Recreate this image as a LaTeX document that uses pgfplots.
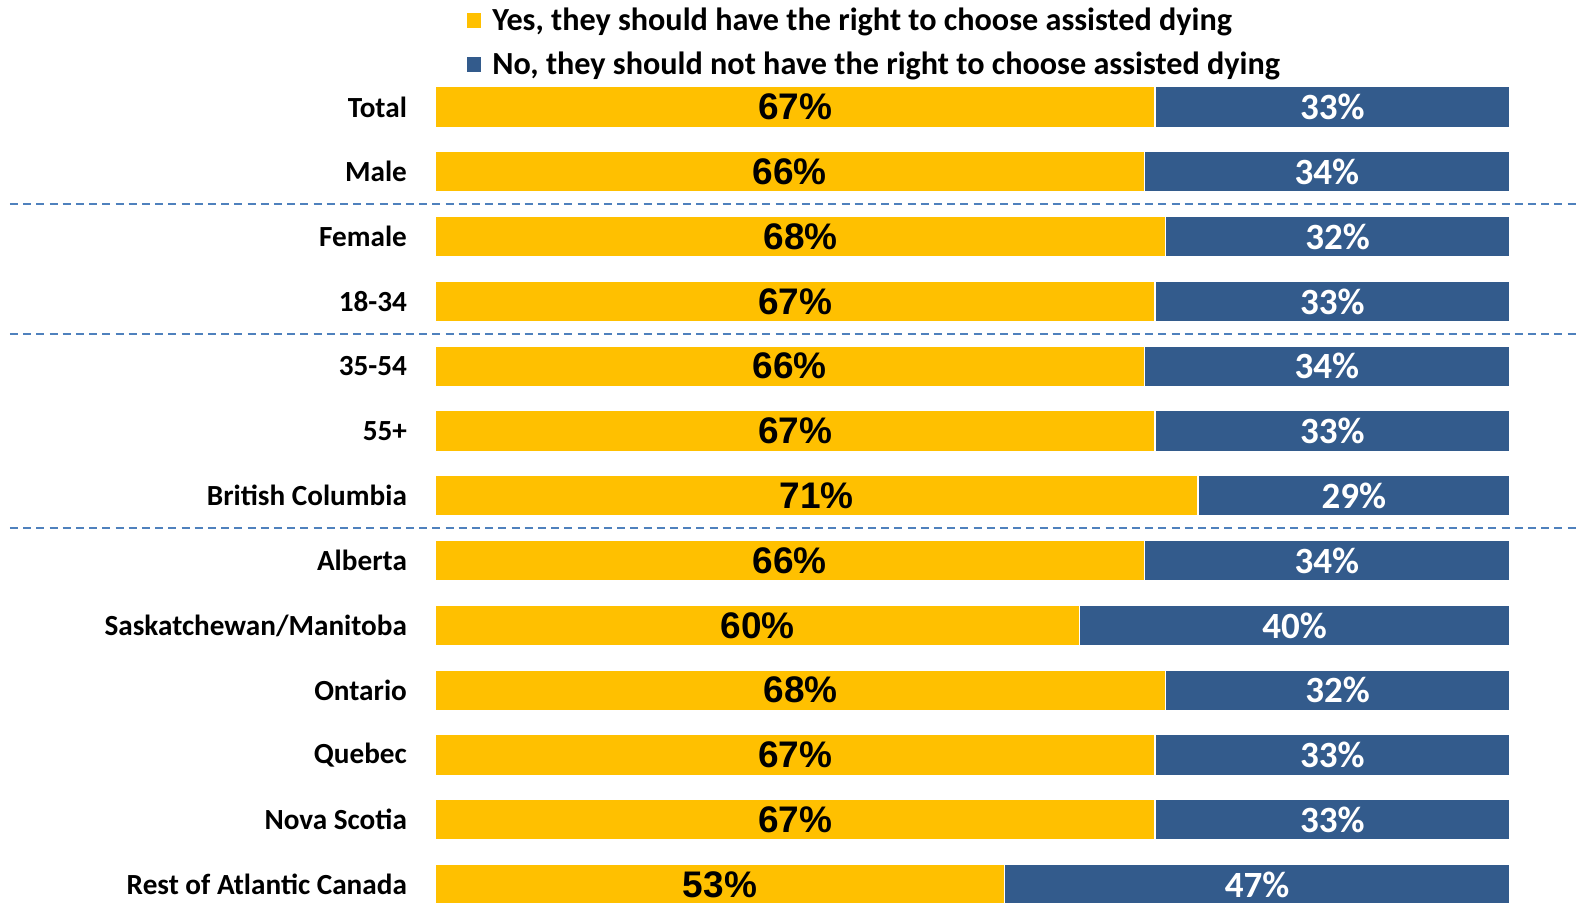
\documentclass[border=0pt]{standalone}
\usepackage{pgfplots}
\usepackage{pgfplotstable}
\pgfplotsset{compat=1.18}
\usepackage{fontspec}
\setmainfont{Carlito}
\newfontfamily\arialf{Liberation Sans}
\definecolor{yyellow}{HTML}{FFC000}
\definecolor{nblue}{HTML}{335B8C}
\definecolor{dashcol}{HTML}{4F81BD}

\pgfplotstableread{
y yes no
12 67 33
11 66 34
10 68 32
9 67 33
8 66 34
7 67 33
6 71 29
5 66 34
4 60 40
3 68 32
2 67 33
1 67 33
0 53 47
}\datatable

\begin{document}
\begin{tikzpicture}
\begin{axis}[
  at={(217.65pt,0pt)}, anchor=south west,
  scale only axis,
  width=537.1pt, height=451pt,
  xmin=0, xmax=100,
  ymin=-0.268, ymax=13.651,
  clip=false,
  /pgf/number format/assume math mode=true,
  axis line style={draw=none},
  tick style={draw=none},
  xtick=\empty,
  ytick={0,...,12},
  yticklabels={Rest of Atlantic Canada,Nova Scotia,Quebec,Ontario,Saskatchewan/Manitoba,Alberta,British Columbia,55+,35-54,18-34,Female,Male,Total},
  yticklabel style={anchor=east, inner sep=0pt, xshift=-14pt, font=\bfseries\fontsize{14.6}{17}\selectfont},
  legend image code/.code={\fill[#1] (0pt,-3.7pt) rectangle (7.4pt,3.7pt);},
  legend cell align=left,
  legend style={at={(axis description cs:0.0291,1)}, anchor=north west, yshift=-3pt, draw=none, fill=none,
    inner sep=0pt, outer sep=0pt, row sep=7.2pt, column sep=4.5pt,
    nodes={inner sep=1pt},
    font=\bfseries\fontsize{16.1}{19}\selectfont},
]
\addlegendimage{fill=yyellow, draw=none}
\addlegendentry{Yes, they should have the right to choose assisted dying}
\addlegendimage{fill=nblue, draw=none}
\addlegendentry{No, they should not have the right to choose assisted dying}

\addplot[xbar, bar width=20.25pt, bar shift=0pt, fill=nblue, draw=white, line width=0.6pt, forget plot]
  table[x expr=\thisrow{yes}+\thisrow{no}, y=y]{\datatable};
\addplot[xbar, bar width=20.25pt, bar shift=0pt, fill=yyellow, draw=white, line width=0.6pt, forget plot]
  table[x=yes, y=y]{\datatable};

\addplot[draw=none, mark=none, forget plot,
  point meta=\thisrow{yes},
  nodes near coords={\pgfmathprintnumber[assume math mode=true]{\pgfplotspointmeta}\%},
  nodes near coords style={anchor=center, inner sep=0pt, text=black, font=\arialf\bfseries\fontsize{18.5}{20}\selectfont}]
  table[x expr=\thisrow{yes}/2, y=y]{\datatable};
\addplot[draw=none, mark=none, forget plot,
  point meta=\thisrow{no},
  nodes near coords={\pgfmathprintnumber[assume math mode=true]{\pgfplotspointmeta}\%},
  nodes near coords style={anchor=center, inner sep=0pt, text=white, font=\bfseries\fontsize{18.5}{20}\selectfont}]
  table[x expr=\thisrow{yes}+\thisrow{no}/2, y=y]{\datatable};

\draw[dashcol, line width=0.8pt, dash pattern=on 4pt off 2.6pt] (axis cs:-39.6,10.5) -- (axis cs:106.6,10.5);
\draw[dashcol, line width=0.8pt, dash pattern=on 4pt off 2.6pt] (axis cs:-39.6,8.5) -- (axis cs:106.6,8.5);
\draw[dashcol, line width=0.8pt, dash pattern=on 4pt off 2.6pt] (axis cs:-39.6,5.5) -- (axis cs:106.6,5.5);
\end{axis}
\pgfresetboundingbox
\useasboundingbox (0pt,0pt) rectangle (790pt,451pt);
\end{tikzpicture}
\end{document}
